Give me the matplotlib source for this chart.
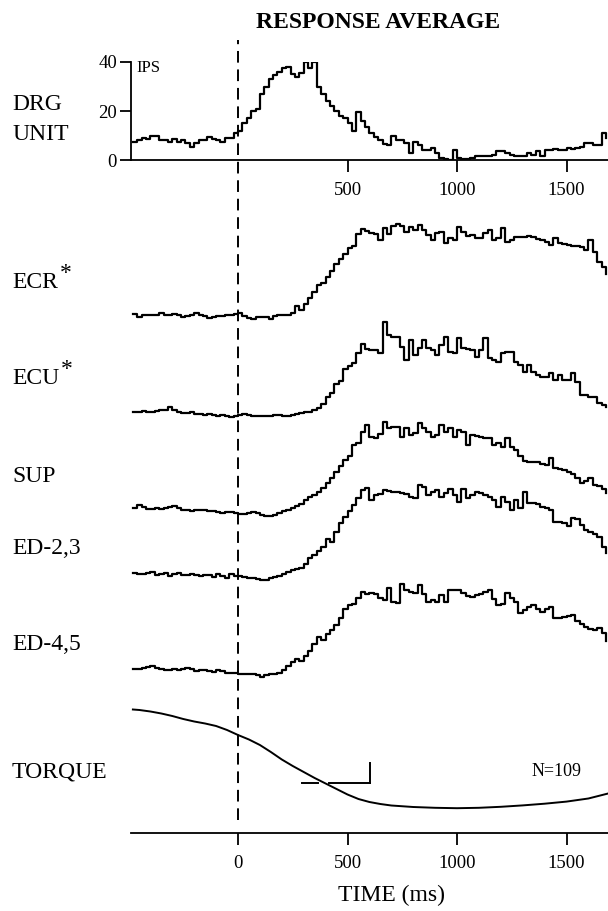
import numpy as np
import matplotlib
matplotlib.use("Agg")
import matplotlib.pyplot as plt

# ======================
# DATA
# ======================

# 20 ms bins, -480 ms .. 1680 ms
bin_times = np.arange(-480, 1700, 20)

# DRG unit firing rate (impulses / s)
drg_ips = [
    7.5, 8, 9, 8.5, 10, 10, 8, 8, 7.5, 8.5,
    7.5, 8, 7, 5.5, 7, 8, 8, 9.5, 8.5, 8,
    7.5, 9, 9, 11, 12, 15, 17, 20, 21, 27,
    30, 33, 34.5, 36, 37.5, 38, 35, 34, 35.5, 40,
    37.5, 40, 30, 27, 24, 22, 20, 18, 17, 15,
    12, 19.5, 16, 13.5, 11, 9.5, 8, 6.5, 6, 10,
    8, 8, 7, 3, 7.5, 6, 4, 4, 5, 3,
    1, 0.5, 0, 4, 1, 0.5, 0.5, 1, 1.5, 1.5,
    1.5, 1.5, 2, 3.5, 3.5, 3, 2, 1.5, 1.5, 1.5,
    3, 2, 3.5, 1.5, 4, 4, 4.5, 4, 4, 5,
    4.5, 5, 5.5, 7, 7, 6, 6, 11, 9,
]

# rectified EMG averages (arbitrary units)
ecr = [
    2, -1, 1, 1, 1, 1.5, 3, 1.5, 1.5, 2,
    1, -0.5, 0.5, 1, 3, 1, 0, -1.5, -1, 0,
    0, 1, 1, 2, 3, 0, -2, -3, -1, -1,
    -1, -3, 0, 1.5, 1, 1.5, 3, 10, 6, 12,
    18, 24, 31, 33, 39, 45, 52, 57, 62, 68,
    70, 82, 87, 85, 83, 82, 76, 88, 82, 90,
    92, 90, 84, 89, 86, 91, 86, 81, 76, 83,
    84, 73, 78, 76, 89, 84, 80, 81, 78, 78,
    83, 86, 76, 78, 88, 74, 76, 79, 79, 79,
    80, 79, 77, 76, 74, 71, 78, 73, 72, 71,
    70, 70, 69, 66, 76, 64, 54, 49, 42,
]

ecu = [
    3, 3, 4, 3.5, 3.5, 4, 5.5, 5, 8, 5,
    3, 2, 2.5, 3, 1, 1, 0.5, 1, 0, -0.5,
    0, -1, -2, -0.5, 0, 1.5, 0.5, -1, -1, -0.5,
    -1, -0.5, 0, 0, -1, -1, 0.5, 1, 2.5, 3,
    3.5, 5, 7.5, 11, 18, 22, 31, 34, 46, 49,
    52, 62, 71, 66, 65, 65, 62, 93, 80, 78,
    78, 68, 55, 75, 60, 67, 75, 67, 65, 60,
    70, 78, 63, 62, 77, 67, 66, 65, 58, 65,
    77, 57, 55, 53, 62, 63, 63, 53, 50, 43,
    50, 43, 40, 38, 38, 42, 35, 40, 35, 35,
    42, 33, 20, 20, 18, 18, 12, 10, 8,
]

sup = [
    6, 9, 7, 5.5, 5.5, 6, 5.5, 6, 7, 8,
    6, 4.5, 4, 3.5, 4, 4.5, 4, 3, 3.5, 2.5,
    1.5, 2, 2.5, 1, 0, 0, 1, 2.5, 1, -1,
    -1.5, -1.5, -0.5, 1, 3, 4.5, 6.5, 8, 10, 14,
    17, 19, 22, 26, 31, 36, 42, 48, 54, 58,
    69, 71, 82, 89, 77, 76, 80, 92, 86, 87,
    87, 77, 86, 79, 81, 91, 86, 82, 77, 79,
    89, 82, 86, 77, 84, 82, 69, 79, 78, 77,
    76, 76, 69, 71, 67, 76, 67, 64, 58, 53,
    52, 52, 52, 50, 49, 56, 46, 45, 44, 42,
    40, 36, 31, 33, 36, 29, 28, 25, 21,
]

ed23 = [
    4, 3.5, 3, 4, 5, 2, 3.5, 4, 1, 3,
    4.5, 2.5, 2, 3, 2.5, 1, 2.5, 2, 0.5, 3,
    1, -1, 3, 1.5, 1, 0.5, -0.5, -0.5, -1.5, -2.5,
    -3, -1, 0.5, 1, 3, 5, 7, 8, 9, 13,
    19, 22, 26, 30, 38, 35, 45, 54, 60, 66,
    72, 79, 87, 89, 77, 82, 83, 87, 86, 85,
    85, 84, 83, 80, 79, 92, 90, 82, 85, 87,
    80, 84, 88, 82, 75, 88, 79, 82, 85, 84,
    82, 80, 77, 70, 80, 75, 67, 77, 69, 85,
    74, 74, 73, 70, 69, 67, 55, 55, 54, 51,
    59, 58, 52, 47, 45, 43, 40, 30, 24,
]

ed45 = [
    5, 5.5, 6, 7, 8, 6, 5, 4.5, 4.5, 5,
    4, 5, 6.5, 5, 3.5, 4, 4.5, 3, 2.5, 4,
    3, 1, 1.5, 1, 0.5, 0, 0, 0, -1, -3,
    -1, 0, 0, 1, 4, 8, 12, 15, 13, 18,
    23, 30, 37, 34, 40, 44, 49, 56, 65, 69,
    70, 76, 82, 80, 81, 80, 76, 74, 86, 72,
    71, 90, 84, 82, 81, 89, 80, 72, 74, 72,
    79, 72, 84, 84, 84, 81, 78, 77, 79, 80,
    82, 84, 75, 69, 70, 81, 76, 72, 61, 64,
    67, 69, 65, 62, 65, 67, 56, 56, 57, 58,
    59, 53, 50, 47, 45, 44, 46, 41, 33,
]

emg_labels = ["ECR", "ECU", "SUP", "ED-2,3", "ED-4,5"]
emg_starred = [True, True, False, False, False]
emg_traces = [ecr, ecu, sup, ed23, ed45]

# wrist torque (arbitrary units)
torque_times = [-480, -450, -400, -350, -300, -250, -200, -150, -100, -50, 0,
                50, 100, 150, 200, 250, 300, 350, 400, 450, 500, 550, 600,
                650, 700, 800, 900, 1000, 1100, 1200, 1300, 1400, 1500, 1600, 1690]
torque = [100.5, 100, 98.5, 96.5, 94, 91, 88.5, 86.5, 84, 80, 75,
          70.5, 65, 58, 50.5, 44, 38, 32, 26.5, 21, 15.5, 11, 8,
          6, 4.5, 3, 2.2, 1.8, 2.2, 3.2, 4.6, 6.3, 8.4, 11.5, 16.5]

# calibration bar drawn next to the torque trace
calib_t = [290, 365, 415, 605]
calib_level = 27
calib_top = 47

drg_ticks = [0, 20, 40]
time_ticks_top = [500, 1000, 1500]
time_ticks = [0, 500, 1000, 1500]

for trace in [drg_ips] + emg_traces:
    assert len(trace) == len(bin_times)

# ======================
# LAYOUT (pixel based, 608 x 911)
# ======================

W, H = 608, 911
ZERO_PX = 238
PX_PER_MS = 0.219
LEFT_PX, RIGHT_PX = 131, 608
XLIM = ((LEFT_PX - ZERO_PX) / PX_PER_MS, (RIGHT_PX - ZERO_PX) / PX_PER_MS)

plt.rcParams["font.family"] = ["Liberation Serif", "DejaVu Serif"]

LW = 1.6
LABEL_FS = 17
TICK_FS = 13.5


def px_axes(fig, top_px, bottom_px):
    return fig.add_axes([LEFT_PX / W, 1 - bottom_px / H,
                         (RIGHT_PX - LEFT_PX) / W, (bottom_px - top_px) / H])


def bare(ax):
    ax.set_xlim(*XLIM)
    ax.patch.set_alpha(0)
    for s in ax.spines.values():
        s.set_visible(False)
    ax.set_xticks([])
    ax.set_yticks([])


def label(fig, text, y_px, x_px=12):
    return fig.text(x_px / W, 1 - y_px / H, text, ha="left", va="center",
                    fontsize=LABEL_FS)


fig = plt.figure(figsize=(W / 100, H / 100), dpi=100)

# --- DRG unit panel
ax = px_axes(fig, 62, 160)
ax.set_xlim(*XLIM)
ax.set_ylim(0, 40)
ax.patch.set_alpha(0)
ax.plot(bin_times, drg_ips, drawstyle="steps-post", color="black", lw=LW)
for s in ["top", "right"]:
    ax.spines[s].set_visible(False)
for s in ["left", "bottom"]:
    ax.spines[s].set_linewidth(1.3)
ax.set_yticks(drg_ticks)
ax.set_xticks(time_ticks_top)
ax.tick_params(axis="y", direction="out", length=8, width=1.3, pad=2, labelsize=TICK_FS)
ax.tick_params(axis="x", direction="out", length=8.5, width=1.3, pad=7, labelsize=TICK_FS)
ax.text(0.012, 1.02, "IPS", transform=ax.transAxes, ha="left", va="top", fontsize=12)
label(fig, "DRG", 105)
label(fig, "UNIT", 134)

# --- stimulus onset overlay axes (dashed line through all panels)
over = px_axes(fig, 0, H)
bare(over)
over.set_ylim(0, 1)
over.axvline(0, ymin=1 - 820 / H, ymax=1 - 40 / H, color="black", lw=1.4,
             linestyle=(0, (6, 3.5)))

# --- EMG traces
baselines_px = [316, 415, 514, 577, 674]
label_y_px = [283, 379, 477, 548, 645]
for name, star, trace, base, ly in zip(emg_labels, emg_starred, emg_traces,
                                       baselines_px, label_y_px):
    ax = px_axes(fig, base - 100, base + 12)
    bare(ax)
    ax.set_ylim(-12, 100)
    ax.plot(bin_times, trace, drawstyle="steps-post", color="black", lw=LW)
    t = label(fig, name, ly)
    if star:
        over.annotate("*", xy=(1.0, 0.95), xycoords=t, xytext=(1.5, 0),
                      textcoords="offset points", ha="left", va="center",
                      fontsize=LABEL_FS, annotation_clip=False)

# --- torque + time axis
ax = px_axes(fig, 700, 833)
ax.set_xlim(*XLIM)
ax.set_ylim(-23, 110)
ax.patch.set_alpha(0)
ax.plot(torque_times, torque, color="black", lw=1.4)
ax.plot(calib_t[:2], [calib_level] * 2, color="black", lw=1.4)
ax.plot(calib_t[2:], [calib_level] * 2, color="black", lw=1.4)
ax.plot([calib_t[3]] * 2, [calib_level, calib_top], color="black", lw=1.4)
for s in ["top", "right", "left"]:
    ax.spines[s].set_visible(False)
ax.spines["bottom"].set_linewidth(1.3)
ax.set_yticks([])
ax.set_xticks(time_ticks)
ax.tick_params(axis="x", direction="out", length=8.5, width=1.3, pad=7, labelsize=TICK_FS)
ax.text(0.84, 0.466, "N=109", transform=ax.transAxes, ha="left", va="center", fontsize=13)
label(fig, "TORQUE", 772)

fig.text(378 / W, 1 - 22 / H, "RESPONSE AVERAGE", ha="center", va="center",
         fontsize=17, fontweight="bold")
fig.text(392 / W, 1 - 895 / H, "TIME (ms)", ha="center", va="center", fontsize=17)

fig.savefig("out.png", dpi=100)
